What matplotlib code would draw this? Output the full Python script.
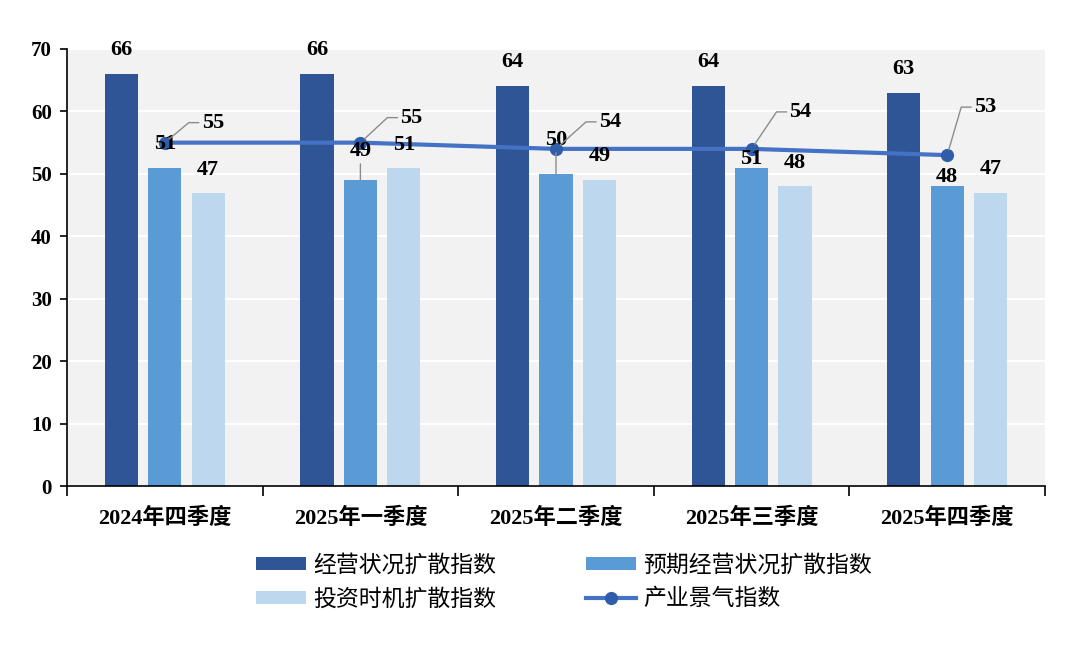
import numpy as np
import matplotlib
matplotlib.use('Agg')
import matplotlib.pyplot as plt

plt.rcParams['font.family'] = ['Liberation Serif', 'Noto Sans CJK SC']

# data
quarters = ['2024年四季度', '2025年一季度', '2025年二季度', '2025年三季度', '2025年四季度']
biz_cond = [66, 66, 64, 64, 63]        # 经营状况扩散指数
biz_expect = [51, 49, 50, 51, 48]      # 预期经营状况扩散指数
invest_time = [47, 51, 49, 48, 47]     # 投资时机扩散指数
industry = [55, 55, 54, 54, 53]        # 产业景气指数

# label nudges (pixels above bar top), manual like the original
lift_dark = [24, 24, 24, 24, 24]
lift_mid = [24, 29, 34, 9, 9]
lift_light = [23, 23, 24, 23, 24]
lead_mid = [False, True, True, False, False]
# line label offsets in pixels (right, up)
line_off = [(48, 20), (51, 25), (54, 27), (49, 37), (38, 48)]

c_dark = '#2F5597'
c_mid = '#5B9BD5'
c_light = '#BDD7EE'
c_line = '#4472C4'
c_mark = '#2F5DAA'

fig = plt.figure(figsize=(10.8, 6.5), dpi=100)
ax = fig.add_axes([67/1080, 1-486/650, 978/1080, 437/650])
ax.set_facecolor('#F2F2F2')

x = np.arange(len(quarters))
w = 0.17
off = 0.222
b1 = ax.bar(x - off, biz_cond, w, color=c_dark, zorder=2, label='经营状况扩散指数')
b2 = ax.bar(x, biz_expect, w, color=c_mid, zorder=2, label='预期经营状况扩散指数')
b3 = ax.bar(x + off, invest_time, w, color=c_light, zorder=2, label='投资时机扩散指数')
ln, = ax.plot(x, industry, color=c_line, lw=3, marker='o', ms=8.5,
              mfc=c_mark, mec=c_mark, zorder=3, label='产业景气指数')

ax.set_xlim(-0.5, 4.5)
ax.set_ylim(0, 70)
ax.set_yticks(np.arange(0, 71, 10))
ax.grid(axis='y', color='white', lw=1.5, zorder=0)
ax.set_axisbelow(True)
for s in ['top', 'right']:
    ax.spines[s].set_visible(False)
ax.spines['left'].set_color('black')
ax.spines['bottom'].set_color('black')
ax.spines['left'].set_linewidth(1.2)
ax.spines['bottom'].set_linewidth(1.2)
ax.tick_params(axis='y', direction='out', length=5, width=1.2, pad=6,
               labelsize=15)
for t in ax.get_yticklabels():
    t.set_fontweight('bold')
ax.set_xticks(x)
ax.set_xticklabels(quarters, fontsize=16, fontweight='bold')
ax.set_xticks(np.arange(-0.5, 5, 1), minor=True)
ax.tick_params(axis='x', which='major', length=0, pad=16)
ax.tick_params(axis='x', which='minor', length=7, width=1.2, direction='out')

pt = 0.72  # px -> points at dpi 100
lab = dict(fontsize=16, fontweight='bold', ha='center', va='center',
           textcoords='offset points', zorder=5)

for i in range(len(x)):
    ax.annotate(str(biz_cond[i]), (x[i] - off, biz_cond[i]),
                xytext=(0, lift_dark[i] * pt), **lab)
    ax.annotate(str(invest_time[i]), (x[i] + off, invest_time[i]),
                xytext=(0, lift_light[i] * pt), **lab)
    ap = dict(arrowstyle='-', color='#8C8C8C', lw=1, shrinkA=0, shrinkB=0) if lead_mid[i] else None
    ax.annotate(str(biz_expect[i]), (x[i], biz_expect[i]),
                xytext=(0, lift_mid[i] * pt), arrowprops=ap, **lab)
    dx, dy = line_off[i]
    cx = dx - 12 - 12
    ang = np.degrees(np.arctan2(dy, cx))
    ax.annotate(str(industry[i]), (x[i], industry[i]),
                xytext=(dx * pt, dy * pt),
                arrowprops=dict(arrowstyle='-', color='#8C8C8C', lw=1,
                                shrinkA=0, shrinkB=4, relpos=(0, 0.5),
                                connectionstyle='angle,angleA=0,angleB=%.1f,rad=0' % ang),
                **lab)

fig.legend([b1, b3, b2, ln], ['经营状况扩散指数', '投资时机扩散指数', '预期经营状况扩散指数', '产业景气指数'],
           ncol=2, loc='center', bbox_to_anchor=(0.522, 0.104), frameon=False,
           fontsize=16.5, handlelength=2.2, handleheight=0.5, handletextpad=0.3,
           columnspacing=3.9, labelspacing=0.55)

fig.savefig('out.png', dpi=100, facecolor='white')
